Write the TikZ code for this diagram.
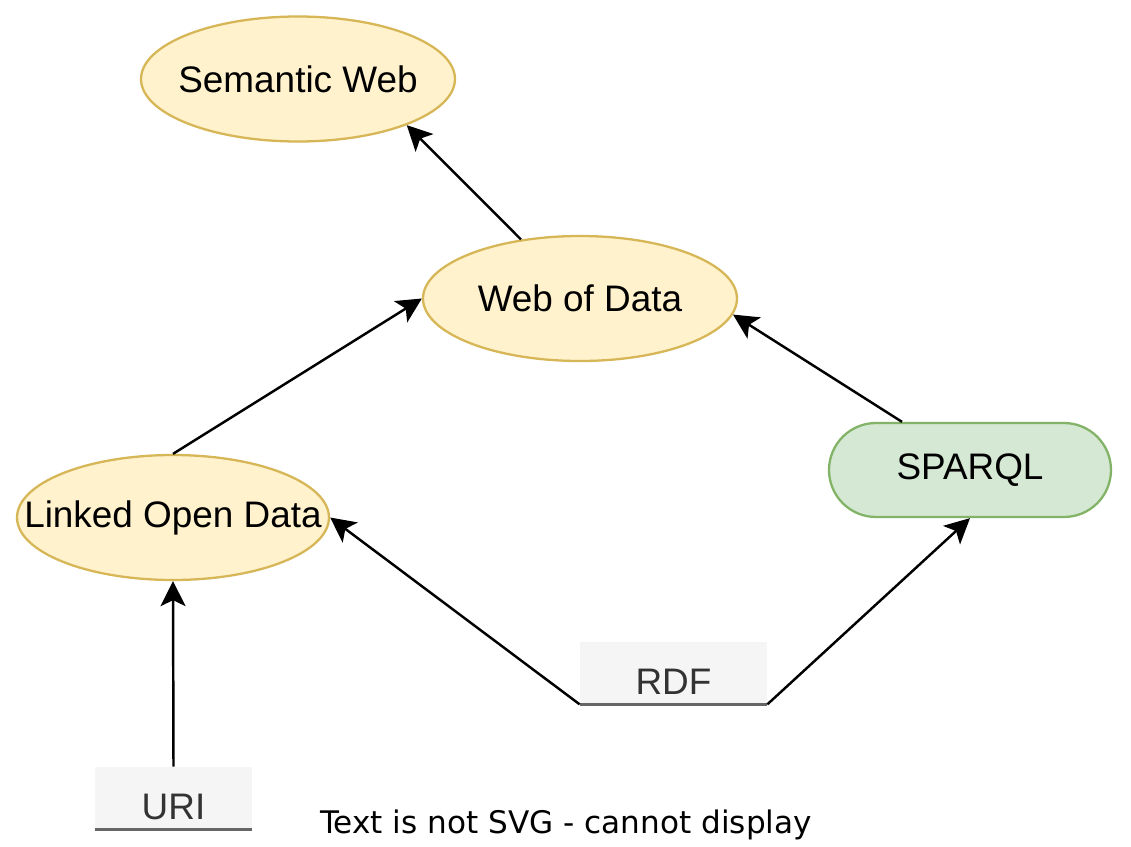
\documentclass[tikz,border=0pt]{standalone}
\usepackage{fontspec}
\setmainfont{Liberation Sans}
\newfontfamily\dejavu{DejaVu Sans}
\usetikzlibrary{shapes.geometric,arrows.meta}
\definecolor{ellfill}{HTML}{FFF2CC}
\definecolor{elldraw}{HTML}{D6B656}
\definecolor{grnfill}{HTML}{D5E8D4}
\definecolor{grndraw}{HTML}{82B366}
\definecolor{boxfill}{HTML}{F5F5F5}
\definecolor{boxline}{HTML}{666666}
\definecolor{boxtext}{HTML}{333333}

\begin{document}
\begin{tikzpicture}[x=1cm,y=-1cm,
	concept/.style={ellipse,draw=elldraw,fill=ellfill,line width=1.3pt,
		minimum width=6.28cm,minimum height=2.5cm,inner xsep=-2cm,inner ysep=0pt,
		font=\fontsize{21}{25}\selectfont},
	query/.style={rectangle,rounded corners=0.94cm,draw=grndraw,fill=grnfill,
		line width=1.3pt,minimum width=5.64cm,minimum height=1.88cm,
		font=\fontsize{21}{25}\selectfont},
	base/.style={rectangle,fill=boxfill,minimum height=1.24cm,
		text height=0.86cm,text depth=0pt,inner ysep=0pt,
		text=boxtext,font=\fontsize{21}{25}\selectfont},
	link/.style={line width=1.4pt,-{Stealth[length=0.5cm,width=0.5cm,inset=0.12cm]}}]
	\useasboundingbox (0,0) rectangle (22.62,16.94);
		\node[concept] (sw) at (5.96,1.58) {Semantic Web};
		\node[concept] (wod) at (11.6,5.97) {Web of Data};
		\node[concept,minimum width=6.24cm] (lod) at (3.46,10.35) {Linked Open Data};
		\node[query] (sparql) at (19.4,9.4) {SPARQL};
		\node[base,minimum width=3.74cm] (rdf) at (13.47,13.46) {RDF};
		\node[base,minimum width=3.14cm] (uri) at (3.47,15.96) {URI};
			\draw[boxline,line width=1.6pt] (rdf.south west) -- (rdf.south east);
			\draw[boxline,line width=1.6pt] (uri.south west) -- (uri.south east);
		\node[font=\dejavu\fontsize{17.7}{21}\selectfont] (note) at (11.32,16.5) {Text is not SVG - cannot display};
			\draw[link] (wod.135) -- (sw.-23);
			\draw[link] (lod.north) -- (wod.west);
			\draw[link] ([xshift=-1.36cm]sparql.north) -- (wod.-6);
			\draw[link] (rdf.south west) -- (lod.east);
			\draw[link] (rdf.south east) -- (sparql.south);
			\draw[link] (uri.north) -- (lod.south);
\end{tikzpicture}
\end{document}
